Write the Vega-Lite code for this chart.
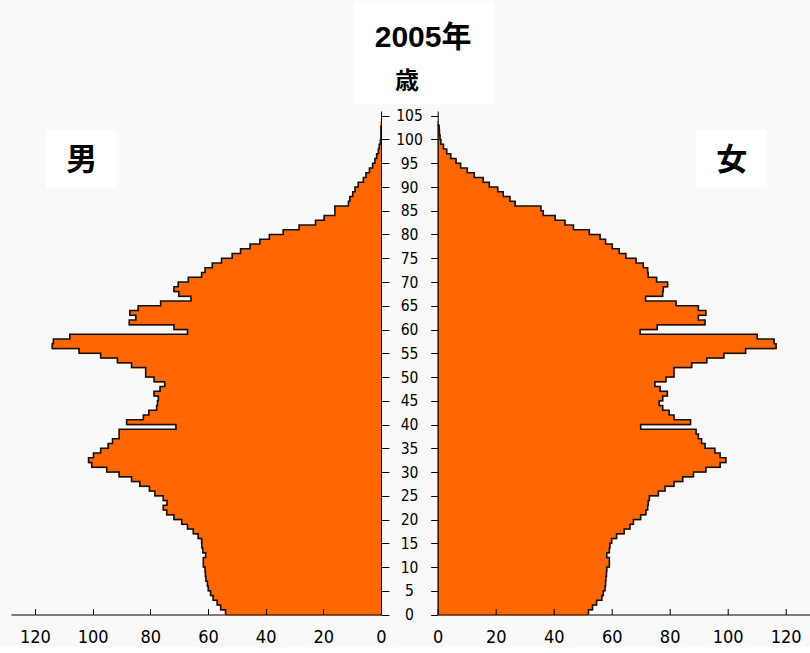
{
  "$schema": "https://vega.github.io/schema/vega-lite/v6.json",
  "background": "#F9F9F9",
  "padding": {"left": 11, "top": 0, "right": 0, "bottom": 0},
  "bounds": "flush",
  "spacing": 56.7,
  "config": {
    "view": {"stroke": null},
    "axis": {
      "grid": false,
      "domainColor": "#000000",
      "tickColor": "#000000",
      "labelColor": "#000000",
      "labelFont": "Liberation Sans Narrow, DejaVu Sans Condensed, sans-serif"
    }
  },
  "datasets": {
    "pop": [
      {"age": 0, "male": 53.9, "female": 52.0},
      {"age": 1, "male": 55.6, "female": 53.4},
      {"age": 2, "male": 56.8, "female": 54.8},
      {"age": 3, "male": 58.2, "female": 56.6},
      {"age": 4, "male": 59.1, "female": 57.1},
      {"age": 5, "male": 59.9, "female": 57.7},
      {"age": 6, "male": 60.2, "female": 57.9},
      {"age": 7, "male": 60.7, "female": 58.0},
      {"age": 8, "male": 60.9, "female": 58.2},
      {"age": 9, "male": 61.0, "female": 58.3},
      {"age": 10, "male": 61.6, "female": 59.2},
      {"age": 11, "male": 61.6, "female": 59.2},
      {"age": 12, "male": 60.8, "female": 58.3},
      {"age": 13, "male": 61.8, "female": 59.2},
      {"age": 14, "male": 62.1, "female": 59.4},
      {"age": 15, "male": 62.2, "female": 60.0},
      {"age": 16, "male": 63.4, "female": 61.7},
      {"age": 17, "male": 65.1, "female": 64.3},
      {"age": 18, "male": 67.1, "female": 66.3},
      {"age": 19, "male": 69.1, "female": 67.5},
      {"age": 20, "male": 71.8, "female": 70.0},
      {"age": 21, "male": 74.3, "female": 71.8},
      {"age": 22, "male": 75.5, "female": 72.4},
      {"age": 23, "male": 74.2, "female": 72.6},
      {"age": 24, "male": 75.5, "female": 73.0},
      {"age": 25, "male": 78.4, "female": 76.1},
      {"age": 26, "male": 80.3, "female": 78.4},
      {"age": 27, "male": 83.6, "female": 81.5},
      {"age": 28, "male": 86.5, "female": 84.5},
      {"age": 29, "male": 90.8, "female": 88.2},
      {"age": 30, "male": 95.1, "female": 92.5},
      {"age": 31, "male": 100.3, "female": 97.4},
      {"age": 32, "male": 101.4, "female": 99.4},
      {"age": 33, "male": 99.7, "female": 97.4},
      {"age": 34, "male": 97.2, "female": 95.6},
      {"age": 35, "male": 94.6, "female": 92.2},
      {"age": 36, "male": 93.1, "female": 91.0},
      {"age": 37, "male": 90.8, "female": 89.9},
      {"age": 38, "male": 90.8, "female": 89.1},
      {"age": 39, "male": 71.1, "female": 70.0},
      {"age": 40, "male": 88.2, "female": 87.2},
      {"age": 41, "male": 82.4, "female": 81.5},
      {"age": 42, "male": 80.5, "female": 79.8},
      {"age": 43, "male": 77.8, "female": 77.6},
      {"age": 44, "male": 77.5, "female": 76.4},
      {"age": 45, "male": 77.2, "female": 77.6},
      {"age": 46, "male": 78.7, "female": 79.2},
      {"age": 47, "male": 76.6, "female": 76.7},
      {"age": 48, "male": 75.0, "female": 74.9},
      {"age": 49, "male": 78.7, "female": 78.7},
      {"age": 50, "male": 81.6, "female": 81.5},
      {"age": 51, "male": 81.6, "female": 81.5},
      {"age": 52, "male": 86.5, "female": 87.6},
      {"age": 53, "male": 91.4, "female": 92.8},
      {"age": 54, "male": 97.2, "female": 98.7},
      {"age": 55, "male": 104.7, "female": 106.2},
      {"age": 56, "male": 114.0, "female": 116.7},
      {"age": 57, "male": 113.6, "female": 116.0},
      {"age": 58, "male": 107.9, "female": 110.2},
      {"age": 59, "male": 67.1, "female": 69.8},
      {"age": 60, "male": 71.8, "female": 75.7},
      {"age": 61, "male": 87.3, "female": 92.2},
      {"age": 62, "male": 85.0, "female": 89.9},
      {"age": 63, "male": 87.1, "female": 92.5},
      {"age": 64, "male": 84.2, "female": 89.9},
      {"age": 65, "male": 76.4, "female": 82.2},
      {"age": 66, "male": 65.9, "female": 71.7},
      {"age": 67, "male": 70.1, "female": 77.6},
      {"age": 68, "male": 71.8, "female": 77.8},
      {"age": 69, "male": 70.3, "female": 79.3},
      {"age": 70, "male": 66.8, "female": 75.5},
      {"age": 71, "male": 62.2, "female": 72.6},
      {"age": 72, "male": 61.0, "female": 72.4},
      {"age": 73, "male": 58.5, "female": 70.9},
      {"age": 74, "male": 55.3, "female": 68.4},
      {"age": 75, "male": 51.6, "female": 64.9},
      {"age": 76, "male": 48.7, "female": 62.6},
      {"age": 77, "male": 45.4, "female": 60.2},
      {"age": 78, "male": 42.0, "female": 57.9},
      {"age": 79, "male": 38.7, "female": 56.0},
      {"age": 80, "male": 33.9, "female": 52.3},
      {"age": 81, "male": 28.4, "female": 46.8},
      {"age": 82, "male": 22.7, "female": 43.9},
      {"age": 83, "male": 19.7, "female": 40.5},
      {"age": 84, "male": 16.0, "female": 36.4},
      {"age": 85, "male": 16.0, "female": 35.6},
      {"age": 86, "male": 11.3, "female": 26.7},
      {"age": 87, "male": 10.8, "female": 24.9},
      {"age": 88, "male": 9.8, "female": 22.6},
      {"age": 89, "male": 9.0, "female": 20.7},
      {"age": 90, "male": 7.9, "female": 17.8},
      {"age": 91, "male": 6.1, "female": 15.7},
      {"age": 92, "male": 5.2, "female": 12.6},
      {"age": 93, "male": 4.0, "female": 10.2},
      {"age": 94, "male": 2.9, "female": 7.9},
      {"age": 95, "male": 2.1, "female": 6.3},
      {"age": 96, "male": 1.5, "female": 4.5},
      {"age": 97, "male": 0.9, "female": 3.1},
      {"age": 98, "male": 0.6, "female": 2.0},
      {"age": 99, "male": 0.2, "female": 1.1},
      {"age": 100, "male": 0, "female": 0.8},
      {"age": 101, "male": 0, "female": 0.6},
      {"age": 102, "male": 0, "female": 0.5},
      {"age": 103, "male": 0, "female": 0}
    ]
  },
  "hconcat": [
    {
      "width": 370,
      "height": 503.5,
      "layer": [
        {
          "data": {"name": "pop"},
          "mark": {"type": "bar", "color": "#FF6600", "stroke": "#FF6600", "strokeWidth": 0.8, "binSpacing": 0},
          "encoding": {
            "y": {
              "field": "age", "type": "quantitative",
              "bin": {"binned": true, "step": 1},
              "scale": {"domain": [0, 106], "nice": false},
              "axis": {
                "orient": "right",
                "zindex": 2,
                "values": [0,5,10,15,20,25,30,35,40,45,50,55,60,65,70,75,80,85,90,95,100,105],
                "tickSize": 8,
                "labelAlign": "center",
                "labelBaseline": "middle",
                "labelPadding": 20,
                "labelFontSize": 15.5,
                "title": "歳",
                "titleAngle": 0,
                "titleX": 25.5,
                "titleY": -23,
                "titleAlign": "center",
                "titleBaseline": "alphabetic",
                "titleFont": "Noto Sans CJK JP",
                "titleFontSize": 24,
                "titleFontWeight": "bold",
                "titleColor": "#000000"
              }
            },
            "x": {
              "field": "male", "type": "quantitative",
              "scale": {"domain": [0, 128.3], "reverse": true, "nice": false},
              "axis": {
                "zindex": 2,
                "values": [0,20,40,60,80,100,120],
                "tickSize": -6,
                "labelPadding": 20,
                "labelFontSize": 18,
                "labelFlush": false,
                "title": null
              }
            }
          }
        },
        {
          "data": {"name": "pop"},
          "mark": {"type": "line", "interpolate": "step-before", "color": "#111111", "strokeWidth": 1.6},
          "encoding": {
            "y": {"field": "age", "type": "quantitative"},
            "x": {"field": "male", "type": "quantitative"},
            "order": {"field": "age", "type": "quantitative"}
          }
        },
        {
          "data": {"values": [{"label": "2005年"}]},
          "mark": {"type": "rect", "color": "#FFFFFF"},
          "encoding": {
            "x": {"datum": 9.7}, "x2": {"datum": -39.5},
            "y": {"datum": 129.2}, "y2": {"datum": 107.5}
          }
        },
        {
          "data": {"values": [{"label": "2005年"}]},
          "mark": {"type": "text", "font": "Liberation Sans, Noto Sans CJK JP", "fontSize": 30, "fontWeight": "bold", "color": "#000000", "align": "center", "baseline": "alphabetic"},
          "encoding": {
            "x": {"datum": -14.6}, "y": {"datum": 119.4},
            "text": {"field": "label"}
          }
        },
        {
          "data": {"values": [{"label": "男"}]},
          "mark": {"type": "rect", "color": "#FFFFFF"},
          "encoding": {
            "x": {"datum": 116.2}, "x2": {"datum": 91.7},
            "y": {"datum": 102.0}, "y2": {"datum": 89.9}
          }
        },
        {
          "data": {"values": [{"label": "男"}]},
          "mark": {"type": "text", "font": "Noto Sans CJK JP", "fontSize": 31, "fontWeight": "bold", "color": "#000000", "align": "center", "baseline": "middle"},
          "encoding": {
            "x": {"datum": 103.8}, "y": {"datum": 95.5},
            "text": {"field": "label"}
          }
        }
      ]
    },
    {
      "width": 372.3,
      "height": 503.5,
      "layer": [
        {
          "data": {"name": "pop"},
          "mark": {"type": "bar", "color": "#FF6600", "stroke": "#FF6600", "strokeWidth": 0.8, "binSpacing": 0},
          "encoding": {
            "y": {
              "field": "age", "type": "quantitative",
              "bin": {"binned": true, "step": 1},
              "scale": {"domain": [0, 106], "nice": false},
              "axis": {
                "orient": "left",
                "zindex": 2,
                "values": [0,5,10,15,20,25,30,35,40,45,50,55,60,65,70,75,80,85,90,95,100,105],
                "tickSize": 7,
                "labels": false,
                "title": null
              }
            },
            "x": {
              "field": "female", "type": "quantitative",
              "scale": {"domain": [0, 128.4], "nice": false},
              "axis": {
                "zindex": 2,
                "values": [0,20,40,60,80,100,120],
                "tickSize": -6,
                "labelPadding": 20,
                "labelFontSize": 18,
                "labelFlush": false,
                "title": null
              }
            }
          }
        },
        {
          "data": {"name": "pop"},
          "mark": {"type": "line", "interpolate": "step-before", "color": "#111111", "strokeWidth": 1.6},
          "encoding": {
            "y": {"field": "age", "type": "quantitative"},
            "x": {"field": "female", "type": "quantitative"},
            "order": {"field": "age", "type": "quantitative"}
          }
        },
        {
          "data": {"values": [{"label": "女"}]},
          "mark": {"type": "rect", "color": "#FFFFFF"},
          "encoding": {
            "x": {"datum": 89.1}, "x2": {"datum": 113.4},
            "y": {"datum": 102.0}, "y2": {"datum": 89.9}
          }
        },
        {
          "data": {"values": [{"label": "女"}]},
          "mark": {"type": "text", "font": "Noto Sans CJK JP", "fontSize": 31, "fontWeight": "bold", "color": "#000000", "align": "center", "baseline": "middle"},
          "encoding": {
            "x": {"datum": 101.4}, "y": {"datum": 95.5},
            "text": {"field": "label"}
          }
        }
      ]
    }
  ]
}
